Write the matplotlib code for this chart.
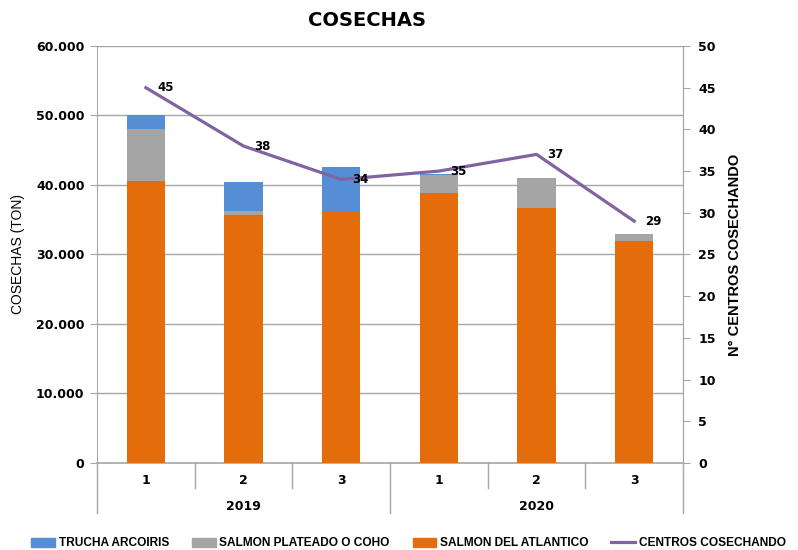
import matplotlib

matplotlib.use("Agg")
import matplotlib.pyplot as plt
from matplotlib.lines import Line2D
from matplotlib.patches import Patch
import numpy as np

# data
years = ["2019", "2020"]
periods = ["1", "2", "3", "1", "2", "3"]
salmon_atlantico = [40600, 35700, 36200, 38900, 36700, 31900]
salmon_coho = [7400, 600, 0, 2500, 4300, 1000]
trucha = [2100, 4200, 6400, 150, 0, 0]
centros = [45, 38, 34, 35, 37, 29]

C_TRUCHA = "#558ED5"
C_COHO = "#A5A5A5"
C_ATL = "#E46C0A"
C_LINE = "#8064A2"
GRID = "#A6A6A6"

fig = plt.figure(figsize=(7.98, 5.5), dpi=100)
ax = fig.add_axes([0.1216, 0.1582, 0.7343, 0.7582])
ax2 = ax.twinx()

x = np.arange(len(periods))
w = 0.39
atl = np.array(salmon_atlantico)
coho = np.array(salmon_coho)
ax.bar(x, atl, width=w, color=C_ATL, zorder=2)
ax.bar(x, coho, width=w, bottom=atl, color=C_COHO, zorder=2)
ax.bar(x, trucha, width=w, bottom=atl + coho, color=C_TRUCHA, zorder=2)

ax.set_xlim(-0.5, len(periods) - 0.5)
ax.set_ylim(0, 60000)
ax.set_yticks(np.arange(0, 60001, 10000))
ax.set_yticklabels([f"{v:,}".replace(",", ".") for v in range(0, 60001, 10000)],
                   fontsize=9, fontweight="bold", family="DejaVu Sans")
ax.grid(axis="y", color=GRID, linewidth=1.0, zorder=0)
ax.set_axisbelow(True)
ax.set_xticks([])
for s in ("top", "bottom"):
    ax.spines[s].set_visible(False)
for s in ("left", "right"):
    ax.spines[s].set_color(GRID)
ax.tick_params(axis="y", length=5, color=GRID, pad=4)
ax.set_ylabel("COSECHAS (TON)", fontsize=10, family="Liberation Sans", labelpad=8)

ax2.plot(x, centros, color=C_LINE, linewidth=2.3, zorder=3)
for xi, v in zip(x, centros):
    ax2.annotate(str(v), (xi, v), xytext=(8, 0), textcoords="offset points",
                 fontsize=8.5, fontweight="bold", va="center", ha="left",
                 family="DejaVu Sans")
ax2.set_ylim(0, 50)
ax2.set_yticks(np.arange(0, 51, 5))
ax2.set_yticklabels([str(v) for v in range(0, 51, 5)], fontsize=9,
                    fontweight="bold", family="DejaVu Sans")
for s in ("top", "bottom", "left"):
    ax2.spines[s].set_visible(False)
ax2.spines["right"].set_color(GRID)
ax2.tick_params(axis="y", length=5, color=GRID, pad=6)
ax2.set_ylabel("N° CENTROS COSECHANDO", fontsize=10.5, fontweight="bold",
               family="Liberation Sans", labelpad=9)

# two-level category axis
tr = ax.get_xaxis_transform()
ax.plot([-0.5, len(periods) - 0.5], [0, 0], color=GRID, lw=1.2, transform=tr,
        clip_on=False, zorder=1)
for i in range(len(periods) + 1):
    edge = i - 0.5
    bottom = -0.12 if i % 3 == 0 else -0.06
    ax.plot([edge, edge], [0, bottom], color=GRID, lw=1.0, transform=tr, clip_on=False)
for xi, p in zip(x, periods):
    ax.text(xi, -0.043, p, transform=tr, ha="center", va="center", fontsize=9,
            fontweight="bold", family="DejaVu Sans")
for g, yr in enumerate(years):
    ax.text(g * 3 + 1, -0.104, yr, transform=tr, ha="center", va="center", fontsize=9,
            fontweight="bold", family="DejaVu Sans")

fig.text(0.46, 0.962, "COSECHAS", ha="center", va="center", fontsize=14,
         fontweight="bold", family="DejaVu Sans")

handles = [Patch(color=C_TRUCHA), Patch(color=C_COHO), Patch(color=C_ATL),
           Line2D([0], [0], color=C_LINE, lw=2.3)]
labels = ["TRUCHA ARCOIRIS", "SALMON PLATEADO O COHO", "SALMON DEL ATLANTICO",
          "CENTROS COSECHANDO"]
fig.legend(handles, labels, loc="center", bbox_to_anchor=(0.512, 0.012), ncol=4,
           frameon=False,
           prop={"family": ["Liberation Sans Narrow", "Liberation Sans"], "weight": "bold",
                 "size": 8.6},
           handlelength=2.0, handleheight=0.8, handletextpad=0.3, columnspacing=1.9,
           borderpad=0.1)

fig.savefig("out.png", dpi=100)
